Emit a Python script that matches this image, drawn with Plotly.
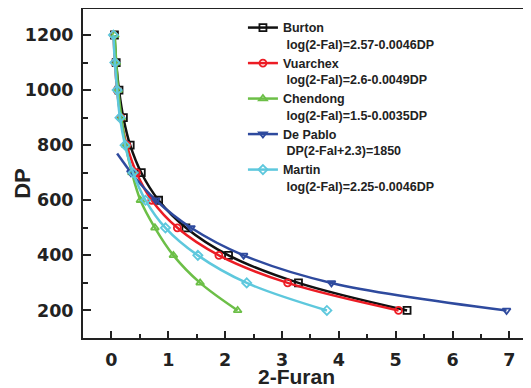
import plotly.graph_objects as go

dp = [200, 300, 400, 500, 600, 700, 800, 900, 1000, 1100, 1200]
burton_x = [5.20, 3.29, 2.06, 1.31, 0.83, 0.525, 0.33, 0.21, 0.133, 0.084, 0.053]
vuarchex_x = [5.05, 3.10, 1.89, 1.16, 0.71, 0.44, 0.27, 0.165, 0.10, 0.062, 0.038]
chendong_x = [2.22, 1.56, 1.09, 0.765, 0.51, 0.36, 0.25, 0.175, 0.12, 0.085, 0.06]
depablo_dp = [200, 300, 400, 500, 600, 700]
depablo_x = [6.95, 3.87, 2.325, 1.40, 0.783, 0.343]
depablo_ext_dp = [700, 770]
depablo_ext_x = [0.343, 0.10]
martin_x = [3.79, 2.38, 1.52, 0.95, 0.60, 0.38, 0.24, 0.15, 0.10, 0.06, 0.035]

names = ["Burton", "Vuarchex", "Chendong", "De Pablo", "Martin"]
formulas = ["log(2-Fal)=2.57-0.0046DP", "log(2-Fal)=2.6-0.0049DP",
            "log(2-Fal)=1.5-0.0035DP", "DP(2-Fal+2.3)=1850",
            "log(2-Fal)=2.25-0.0046DP"]
colors = ["#111111", "#ec1c24", "#6cbf47", "#2e4a9e", "#5ec8dd"]
symbols = ["square-open", "circle-open", "triangle-up-open", "triangle-down-open", "diamond-open"]

xs = [burton_x, vuarchex_x, chendong_x, depablo_x, martin_x]
ys = [dp, dp, dp, depablo_dp, dp]

LS = "Liberation Sans, Arial, sans-serif"
TICKF = "DejaVu Sans, Verdana, sans-serif"
INK = "#222222"

fig = go.Figure()
fig.add_trace(go.Scatter(x=depablo_ext_x, y=depablo_ext_dp, mode="lines",
                         line=dict(color=colors[3], width=2.5), showlegend=False,
                         hoverinfo="skip"))
for i in range(5):
    fig.add_trace(go.Scatter(
        x=xs[i], y=ys[i], mode="lines+markers",
        name=f"{names[i]}<br> {formulas[i]}",
        line=dict(color=colors[i], width=2.5, shape="spline", smoothing=1),
        marker=dict(symbol=symbols[i], size=7, color=colors[i],
                    line=dict(width=1.8, color=colors[i])),
    ))

tickfont = dict(family=TICKF, size=17.5, color=INK, weight="bold")
fig.update_layout(
    width=523, height=380,
    margin=dict(l=75, r=0, t=0, b=50),
    paper_bgcolor="white", plot_bgcolor="white",
    font=dict(family=LS, color=INK),
    showlegend=True,
    legend=dict(x=0.357, y=0.985, xanchor="left", yanchor="top",
                valign="top", bgcolor="rgba(0,0,0,0)",
                font=dict(size=12.5, family=LS, color=INK, weight="bold"),
                tracegroupgap=0),
    xaxis=dict(range=[-0.5, 7.38], tickvals=[0, 1, 2, 3, 4, 5, 6, 7],
               ticks="inside", ticklen=7, tickwidth=1.5, tickcolor=INK,
               showline=True, linecolor=INK, linewidth=2,
               showgrid=False, zeroline=False, automargin=False,
               tickfont=tickfont, ticklabelstandoff=5,
               minor=dict(tickvals=[-0.5, 0.5, 1.5, 2.5, 3.5, 4.5, 5.5, 6.5],
                          ticks="inside", ticklen=4, tickwidth=1.5, tickcolor=INK)),
    yaxis=dict(range=[100, 1298], tickvals=[200, 400, 600, 800, 1000, 1200],
               ticks="inside", ticklen=8, tickwidth=1.5, tickcolor=INK,
               showline=True, linecolor=INK, linewidth=2,
               showgrid=False, zeroline=False, automargin=False,
               tickfont=tickfont, ticklabelstandoff=4,
               minor=dict(tickvals=[300, 500, 700, 900, 1100],
                          ticks="inside", ticklen=5, tickwidth=1.5, tickcolor=INK)),
)
fig.add_shape(type="line", xref="paper", yref="paper", x0=0, x1=1, y0=1, y1=1,
              line=dict(color=INK, width=2))
fig.add_annotation(text="2-Furan", xref="x", yref="paper", x=3.26, y=-0.118,
                   xanchor="center", yanchor="middle", showarrow=False,
                   font=dict(family=LS, size=21, color=INK, weight="bold"))
fig.add_annotation(text="DP", xref="paper", yref="paper", x=-0.134, y=0.47,
                   xanchor="center", yanchor="middle", showarrow=False, textangle=-90,
                   font=dict(family=LS, size=22, color=INK, weight="bold"))
fig.write_html("out.html")
